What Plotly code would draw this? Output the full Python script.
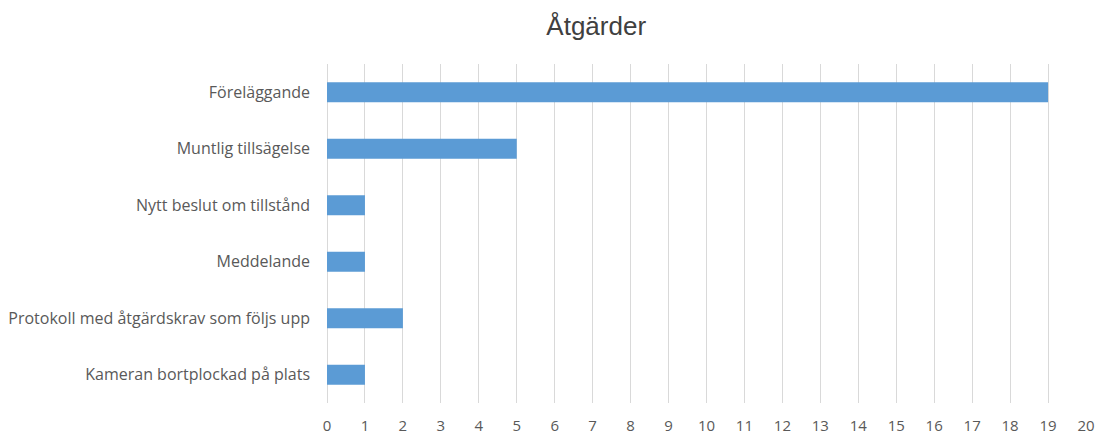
import plotly.graph_objects as go

categories = [
    "Föreläggande",
    "Muntlig tillsägelse",
    "Nytt beslut om tillstånd",
    "Meddelande",
    "Protokoll med åtgärdskrav som följs upp",
    "Kameran bortplockad på plats",
]
values = [19, 5, 1, 1, 2, 1]
x_ticks = list(range(0, 21))
title_text = "Åtgärder"

fig = go.Figure(
    go.Bar(
        y=categories,
        x=values,
        orientation="h",
        marker=dict(color="#5B9BD5", line=dict(width=0)),
    )
)

fig.update_layout(
    width=1099,
    height=437,
    margin=dict(l=327, r=13, t=64, b=34, autoexpand=False),
    paper_bgcolor="white",
    plot_bgcolor="white",
    bargap=0.65,
    showlegend=False,
    title=dict(
        text=title_text,
        x=0.5425,
        xref="container",
        xanchor="center",
        y=0.94,
        yref="container",
        yanchor="middle",
        font=dict(family="Liberation Sans, Arial", size=26, color="#404040"),
    ),
    font=dict(family="Open Sans, Liberation Sans", size=16, color="#595959"),
)

fig.update_xaxes(
    range=[0, 20],
    tickmode="array",
    tickvals=x_ticks,
    showgrid=True,
    gridcolor="#D9D9D9",
    gridwidth=1,
    zeroline=True,
    zerolinecolor="#D9D9D9",
    zerolinewidth=1,
    showline=False,
    ticks="",
    automargin=False,
    ticklabelstandoff=12,
    tickfont=dict(size=15, color="#595959"),
    fixedrange=True,
)

fig.update_yaxes(
    categoryorder="array",
    categoryarray=categories[::-1],
    showgrid=False,
    showline=False,
    ticks="",
    automargin=False,
    ticklabelstandoff=16,
    tickfont=dict(size=16, color="#595959"),
    fixedrange=True,
)

fig.write_html(
    "out.html",
    config={"displayModeBar": False},
    post_script="document.body.style.margin='0';document.body.style.padding='0';",
)
